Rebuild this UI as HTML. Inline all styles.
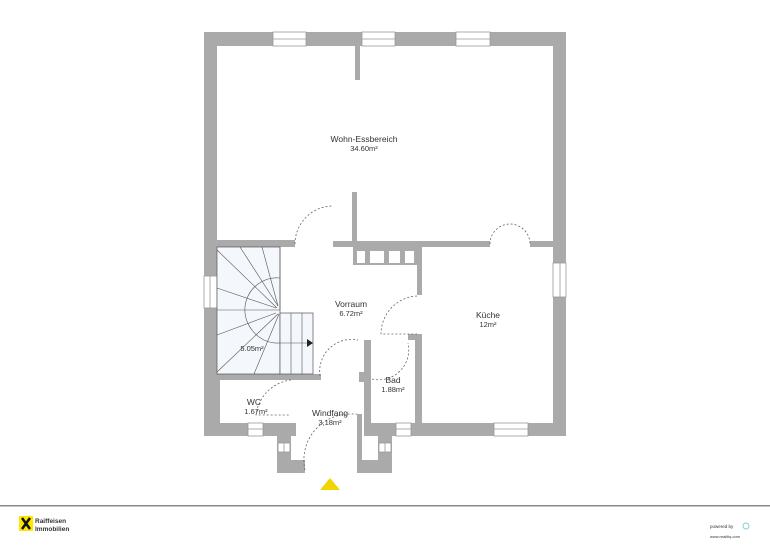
<!DOCTYPE html>
<html><head><meta charset="utf-8"><style>
html,body{margin:0;padding:0;background:#fff;width:770px;height:546px;overflow:hidden}
svg{display:block}
text{font-family:"Liberation Sans",sans-serif;fill:#333}
</style></head><body>
<svg width="770" height="546" viewBox="0 0 770 546" xmlns="http://www.w3.org/2000/svg">
<g fill="#aaaaaa">
<rect x="204" y="32" width="362" height="14"/>
<rect x="204" y="32" width="13" height="404"/>
<rect x="553" y="32" width="13" height="404"/>
<rect x="204" y="423" width="92" height="13"/>
<rect x="364" y="423" width="202" height="13"/>
<rect x="277" y="430" width="14" height="43"/>
<rect x="277" y="460" width="28" height="13"/>
<rect x="378" y="430" width="14" height="43"/>
<rect x="357" y="460" width="35" height="13"/>
<rect x="357" y="414" width="5" height="50"/>
<rect x="355" y="46" width="5" height="34"/>
<rect x="217" y="240" width="78" height="7"/>
<rect x="333" y="241" width="157" height="6"/>
<rect x="530" y="241" width="23" height="6"/>
<rect x="352" y="192" width="5" height="55"/>
<rect x="353" y="247" width="69" height="18"/>
<rect x="417" y="247" width="5" height="48"/>
<rect x="415" y="334" width="7" height="92"/>
<rect x="408" y="334" width="14" height="6"/>
<rect x="364" y="340" width="7" height="90"/>
<rect x="359" y="372" width="6" height="10"/>
<rect x="217" y="374" width="104" height="6"/>
<rect x="217" y="378" width="3" height="48"/>
</g>
<g fill="#fff">
<rect x="357" y="251" width="8" height="12"/>
<rect x="370" y="251" width="14" height="12"/>
<rect x="389" y="251" width="11" height="12"/>
<rect x="405" y="251" width="9" height="12"/>
</g>
<g fill="#fff" stroke="#999" stroke-width="0.8">
<rect x="273" y="32" width="33" height="14"/><line x1="273" y1="39" x2="306" y2="39"/>
<rect x="362" y="32" width="33" height="14"/><line x1="362" y1="39" x2="395" y2="39"/>
<rect x="456" y="32" width="34" height="14"/><line x1="456" y1="39" x2="490" y2="39"/>
<rect x="204" y="276" width="13" height="32"/><line x1="210" y1="276" x2="210" y2="308"/>
<rect x="553" y="263" width="13" height="34"/><line x1="560" y1="263" x2="560" y2="297"/>
<rect x="248" y="423" width="15" height="13"/><line x1="248" y1="429" x2="263" y2="429"/>
<rect x="396" y="423" width="15" height="13"/><line x1="396" y1="429" x2="411" y2="429"/>
<rect x="494" y="423" width="34" height="13"/><line x1="494" y1="429" x2="528" y2="429"/>
<rect x="278" y="443" width="12" height="9"/><line x1="284" y1="443" x2="284" y2="452"/>
<rect x="379" y="443" width="12" height="9"/><line x1="385" y1="443" x2="385" y2="452"/>
</g>
<g stroke="#555" stroke-width="0.7" fill="#f4f7fb">
<rect x="217" y="247" width="63" height="127"/>
<rect x="280" y="313" width="33" height="61"/>
</g>
<g stroke="#555" stroke-width="0.6" fill="none">
<line x1="280" y1="247" x2="280" y2="310"/>
<line x1="217" y1="310" x2="280" y2="310"/>
<line x1="217" y1="250" x2="277" y2="308"/>
<line x1="240" y1="247" x2="278" y2="306"/>
<line x1="262" y1="247" x2="278" y2="306"/>
<line x1="217" y1="288" x2="276" y2="308"/>
<line x1="217" y1="335" x2="276" y2="313"/>
<line x1="217" y1="372" x2="278" y2="314"/>
<line x1="254" y1="374" x2="279" y2="314"/>
<line x1="291" y1="313" x2="291" y2="374"/>
<line x1="302" y1="313" x2="302" y2="374"/>
<path d="M280 278 A32 32 0 0 0 252 330"/>
<path d="M280 343 A32 32 0 0 1 252 330"/>
<line x1="280" y1="343" x2="307" y2="343"/>
</g>
<polygon points="307,339 313,343 307,347" fill="#222"/>
<g stroke="#666" stroke-width="0.8" fill="none" stroke-dasharray="2,2">
<path d="M295 244 A38 38 0 0 1 333 206"/>
<path d="M490 244 A20 20 0 0 1 530 244"/>
<path d="M417 296 A38 38 0 0 0 381 334 L417 334"/>
<path d="M320 376 A32 32 0 0 1 358 340"/>
<path d="M291 380 A40 40 0 0 0 256 415 L290 415"/>
<path d="M305 470 A46 46 0 0 1 350 414 L357 414"/>
<path d="M372 379 A30 30 0 0 0 408 343"/>
</g>
<g font-size="8.5" text-anchor="middle">
<text x="364" y="142">Wohn-Essbereich</text>
<text x="364" y="151" font-size="7.5">34.60m²</text>
<text x="351" y="307">Vorraum</text>
<text x="351" y="316" font-size="7.5">6.72m²</text>
<text x="488" y="318">Küche</text>
<text x="488" y="327" font-size="7.5">12m²</text>
<text x="393" y="383">Bad</text>
<text x="393" y="392" font-size="7.5">1.88m²</text>
<text x="254" y="405">WC</text>
<text x="256" y="414" font-size="7.5">1.67m²</text>
<text x="330" y="416">Windfang</text>
<text x="330" y="425" font-size="7.5">3,18m²</text>
<text x="252" y="351" font-size="7.5">5.05m²</text>
</g>
<polygon points="330,478 340,490 320,490" fill="#f2d400"/>
<rect x="0" y="505" width="770" height="1.5" fill="#888"/>
<rect x="19" y="516" width="14" height="15" fill="#ffe500"/>
<path d="M22 518 L30 529 M30 518 L22 529" stroke="#111" stroke-width="2.5"/>
<text x="35" y="523" font-size="6.5" font-weight="bold" fill="#111">Raiffeisen</text>
<text x="35" y="531" font-size="6.5" font-weight="bold" fill="#111">Immobilien</text>
<text x="710" y="528" font-size="4.5" fill="#888">powered by</text>
<circle cx="746" cy="526" r="3" fill="none" stroke="#8cd" stroke-width="1"/>
<text x="710" y="538" font-size="4" fill="#555">www.realitiq.com</text>
</svg>
</body></html>
